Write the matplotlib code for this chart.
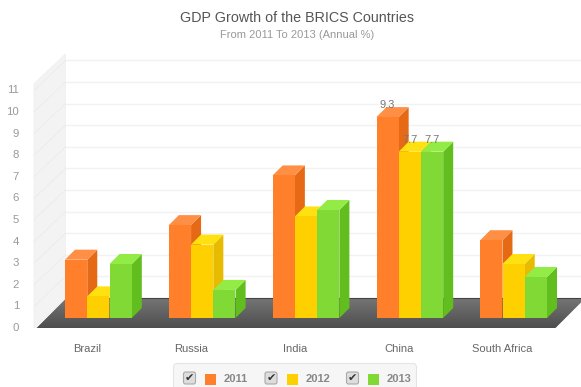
# GDP growth of the BRICS countries, 3D style column chart
import numpy as np
import matplotlib
matplotlib.use('Agg')
import matplotlib.pyplot as plt
from matplotlib.colors import LinearSegmentedColormap
from matplotlib.patches import Polygon, FancyBboxPatch, Rectangle

plt.rcParams['font.family'] = ['Liberation Sans', 'DejaVu Sans']

countries = ['Brazil', 'Russia', 'India', 'China', 'South Africa']
years = ['2011', '2012', '2013']
gdp_2011 = [2.7, 4.3, 6.6, 9.3, 3.6]
gdp_2012 = [1.0, 3.4, 4.7, 7.7, 2.5]
gdp_2013 = [2.5, 1.3, 5.0, 7.7, 1.9]
series = [gdp_2011, gdp_2012, gdp_2013]
y_ticks = list(range(12))
labelled_country = 'China'

front_cols = ['#FF7F2A', '#FFD000', '#80D935']
side_cols = ['#E66A16', '#E6BB00', '#62BE1E']
top_cols = ['#FF8F45', '#FFE010', '#93EB45']

W, H = 581, 387
PX_X = 519 / 5.0   # pixels per category
PX_Y = 21.6        # pixels per unit
BAR_W = 0.2145
BAR_D = 10         # bar depth in pixels

fig = plt.figure(figsize=(W / 100, H / 100), dpi=100, facecolor='white')
ax = fig.add_axes([46.5 / W, (H - 318) / H, 519 / W, 237.6 / H])
ax.set_axis_off()


def dx(d):
    return d / PX_X


def dy(d):
    return d / PX_Y


# side wall and back wall grid
x_left = -0.5
wall_top = 11.3
ax.add_patch(Polygon([(x_left + dx(-12.5), dy(-10)), (x_left + dx(-12.5), wall_top + dy(-10)),
                      (x_left + dx(19), wall_top + dy(20)), (x_left + dx(19), dy(20))],
                     fc='#F3F3F3', ec='#EFEFEF', lw=0.6, clip_on=False, zorder=1))
for v in y_ticks[1:]:
    ax.plot([x_left + dx(19), 4.7], [v + dy(20)] * 2, color='#F2F2F2', lw=1.0,
            clip_on=False, zorder=1)
    ax.plot([x_left + dx(-12.5), x_left + dx(19)], [v + dy(-10), v + dy(20)], color='#EBEBEB',
            lw=0.6, clip_on=False, zorder=1.1)

# floor with a vertical gradient
floor = Polygon([(x_left + dx(-10), dy(-10)), (x_left + dx(20), dy(20)),
                 (4.5 + dx(20), dy(20)), (4.5 + dx(-10), dy(-10))],
                fc='none', ec='none', clip_on=False)
ax.add_patch(floor)
grad = np.linspace(0, 1, 64).reshape(-1, 1)
im = ax.imshow(grad, extent=[-1, 5, dy(-10), dy(20)], origin='lower', aspect='auto',
               cmap=LinearSegmentedColormap.from_list('fl', ['#4E4E4E', '#757575']), zorder=2)
im.set_clip_path(floor)
im.set_clip_box(fig.bbox)
ax.plot([x_left + dx(20), 4.7], [dy(20)] * 2, color='#444444', lw=0.8, clip_on=False, zorder=2.1)

# columns, left to right so each one covers the side of the previous
xs = np.arange(len(countries))
z = 3
for i in xs:
    for s, vals in enumerate(series):
        v = vals[i]
        x0 = i + (s - 1.5) * BAR_W
        x1 = x0 + BAR_W
        ax.add_patch(Polygon([(x1, 0), (x1 + dx(BAR_D), dy(BAR_D)), (x1 + dx(BAR_D), v + dy(BAR_D)), (x1, v)],
                             fc=side_cols[s], ec='none', clip_on=False, zorder=z))
        ax.add_patch(Polygon([(x0, v), (x1, v), (x1 + dx(BAR_D), v + dy(BAR_D)), (x0 + dx(BAR_D), v + dy(BAR_D))],
                             fc=top_cols[s], ec='none', clip_on=False, zorder=z))
        ax.bar(x0 + BAR_W / 2, v, BAR_W * 0.985, color=front_cols[s], zorder=z + 0.5, clip_on=False)
        z += 1

# value labels only on one group
for s, vals in enumerate(series):
    i = countries.index(labelled_country)
    ax.text(i + (s - 1) * BAR_W, vals[i] + dy(12), str(vals[i]), ha='center', va='center',
            fontsize=8, color='#777777', zorder=50)

ax.set_xlim(-0.5, 4.5)
ax.set_ylim(0, 11)

# axis labels
for v in y_ticks:
    ax.text(x_left + dx(19 - 46.5), v + dy(-10), str(v), ha='right', va='center', fontsize=8.2,
            color='#999999', clip_on=False)
for i, name in enumerate(countries):
    ax.text(i + dx(-11), dy(-31.5), name, ha='center', va='center', fontsize=8, color='#666666',
            clip_on=False)

fig.text(297 / W, 1 - 18 / H, 'GDP Growth of the BRICS Countries', ha='center', va='center',
         fontsize=10.3, color='#555555')
fig.text(297 / W, 1 - 35 / H, 'From 2011 To 2013 (Annual %)', ha='center', va='center',
         fontsize=8, color='#999999')

# legend box with checkboxes, runs off the bottom edge
lg = fig.add_axes([0, 0, 1, 1], zorder=60)
lg.set_xlim(0, W)
lg.set_ylim(H, 0)
lg.set_axis_off()
lg.patch.set_alpha(0)
lg.add_patch(FancyBboxPatch((173.5, 363.5), 243, 40, boxstyle='round,pad=0,rounding_size=4',
                            fc='#F6F6F6', ec='#E4E4E4', lw=0.8))
for k, year in enumerate(years):
    off = 81.5 * k
    lg.add_patch(FancyBboxPatch((183.5 + off, 372), 12, 12, boxstyle='round,pad=0,rounding_size=2',
                                fc='#DDDDDD', ec='#AAAAAA', lw=0.8))
    lg.text(189.5 + off, 377.5, '\u2714', family='DejaVu Sans', fontsize=8, color='#333333',
            ha='center', va='center')
    lg.add_patch(Rectangle((205 + off, 374), 11, 11, fc=front_cols[k], ec='none'))
    lg.text(224 + off, 379.5, year, fontsize=8, fontweight='bold', color='#888888',
            ha='left', va='center')

fig.savefig('out.png', dpi=100)
